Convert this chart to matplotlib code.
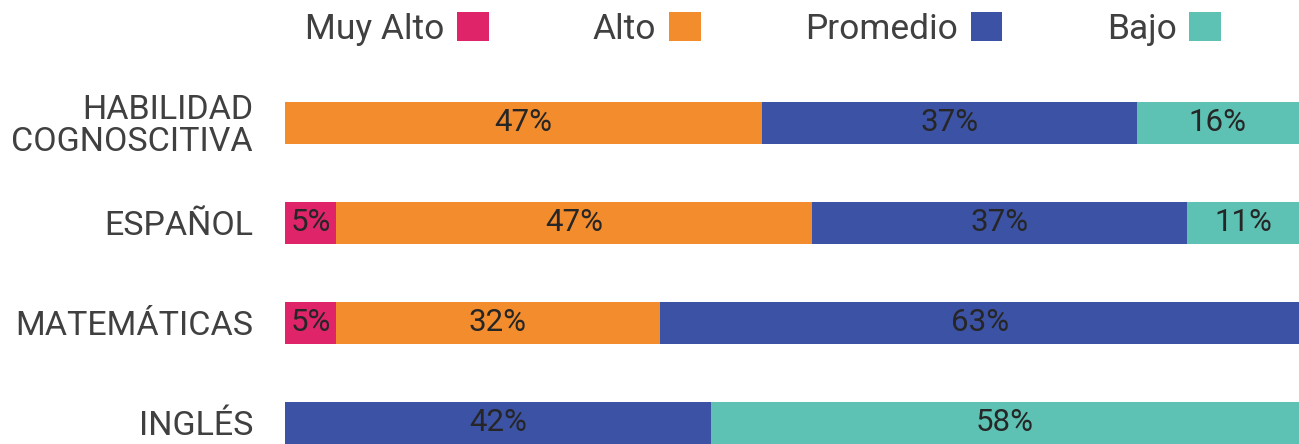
import numpy as np
import matplotlib.pyplot as plt
from matplotlib.patches import Patch

plt.rcParams['font.family'] = ['Roboto', 'DejaVu Sans']

# data
categories = ['HABILIDAD\nCOGNOSCITIVA', 'ESPAÑOL', 'MATEMÁTICAS', 'INGLÉS']
levels = ['Muy Alto', 'Alto', 'Promedio', 'Bajo']
muy_alto = [0, 5, 5, 0]
alto = [47, 47, 32, 0]
promedio = [37, 37, 63, 42]
bajo = [16, 11, 0, 58]
colors = ['#E0246A', '#F28C2D', '#3C52A4', '#5DC2B3']

series = [muy_alto, alto, promedio, bajo]

fig = plt.figure(figsize=(12.99, 4.44), dpi=100)
ax = fig.add_axes([285 / 1299, 0, 1 - 285 / 1299, 1])

y = np.arange(len(categories))
left = np.zeros(len(categories))
for name, vals, col in zip(levels, series, colors):
    vals = np.array(vals, dtype=float)
    bars = ax.barh(y, vals, left=left, height=0.42, color=col, label=name)
    labels = ['%d%%' % v if v > 0 else '' for v in vals]
    ax.bar_label(bars, labels=labels, label_type='center',
                 fontsize=22.5, color='#262626')
    left += vals

ax.set_xlim(0, 100)
ax.set_ylim(3.21, -1.225)
ax.set_yticks(y)
ax.set_yticklabels(categories, fontsize=24.5, color='#404040', linespacing=1.0)
ax.tick_params(axis='y', length=0, pad=23)
ax.set_xticks([])
for s in ax.spines.values():
    s.set_visible(False)

handles = [Patch(facecolor=c, edgecolor='none') for c in colors]
fig.legend(handles, levels, loc='upper left', bbox_to_anchor=(273 / 1299, 1.045),
           ncol=4, frameon=False, markerfirst=False, fontsize=25.5,
           handlelength=0.9, handleheight=0.9, handletextpad=0.35,
           columnspacing=2.95, labelcolor='#404040')

fig.savefig('out.png', dpi=100)
